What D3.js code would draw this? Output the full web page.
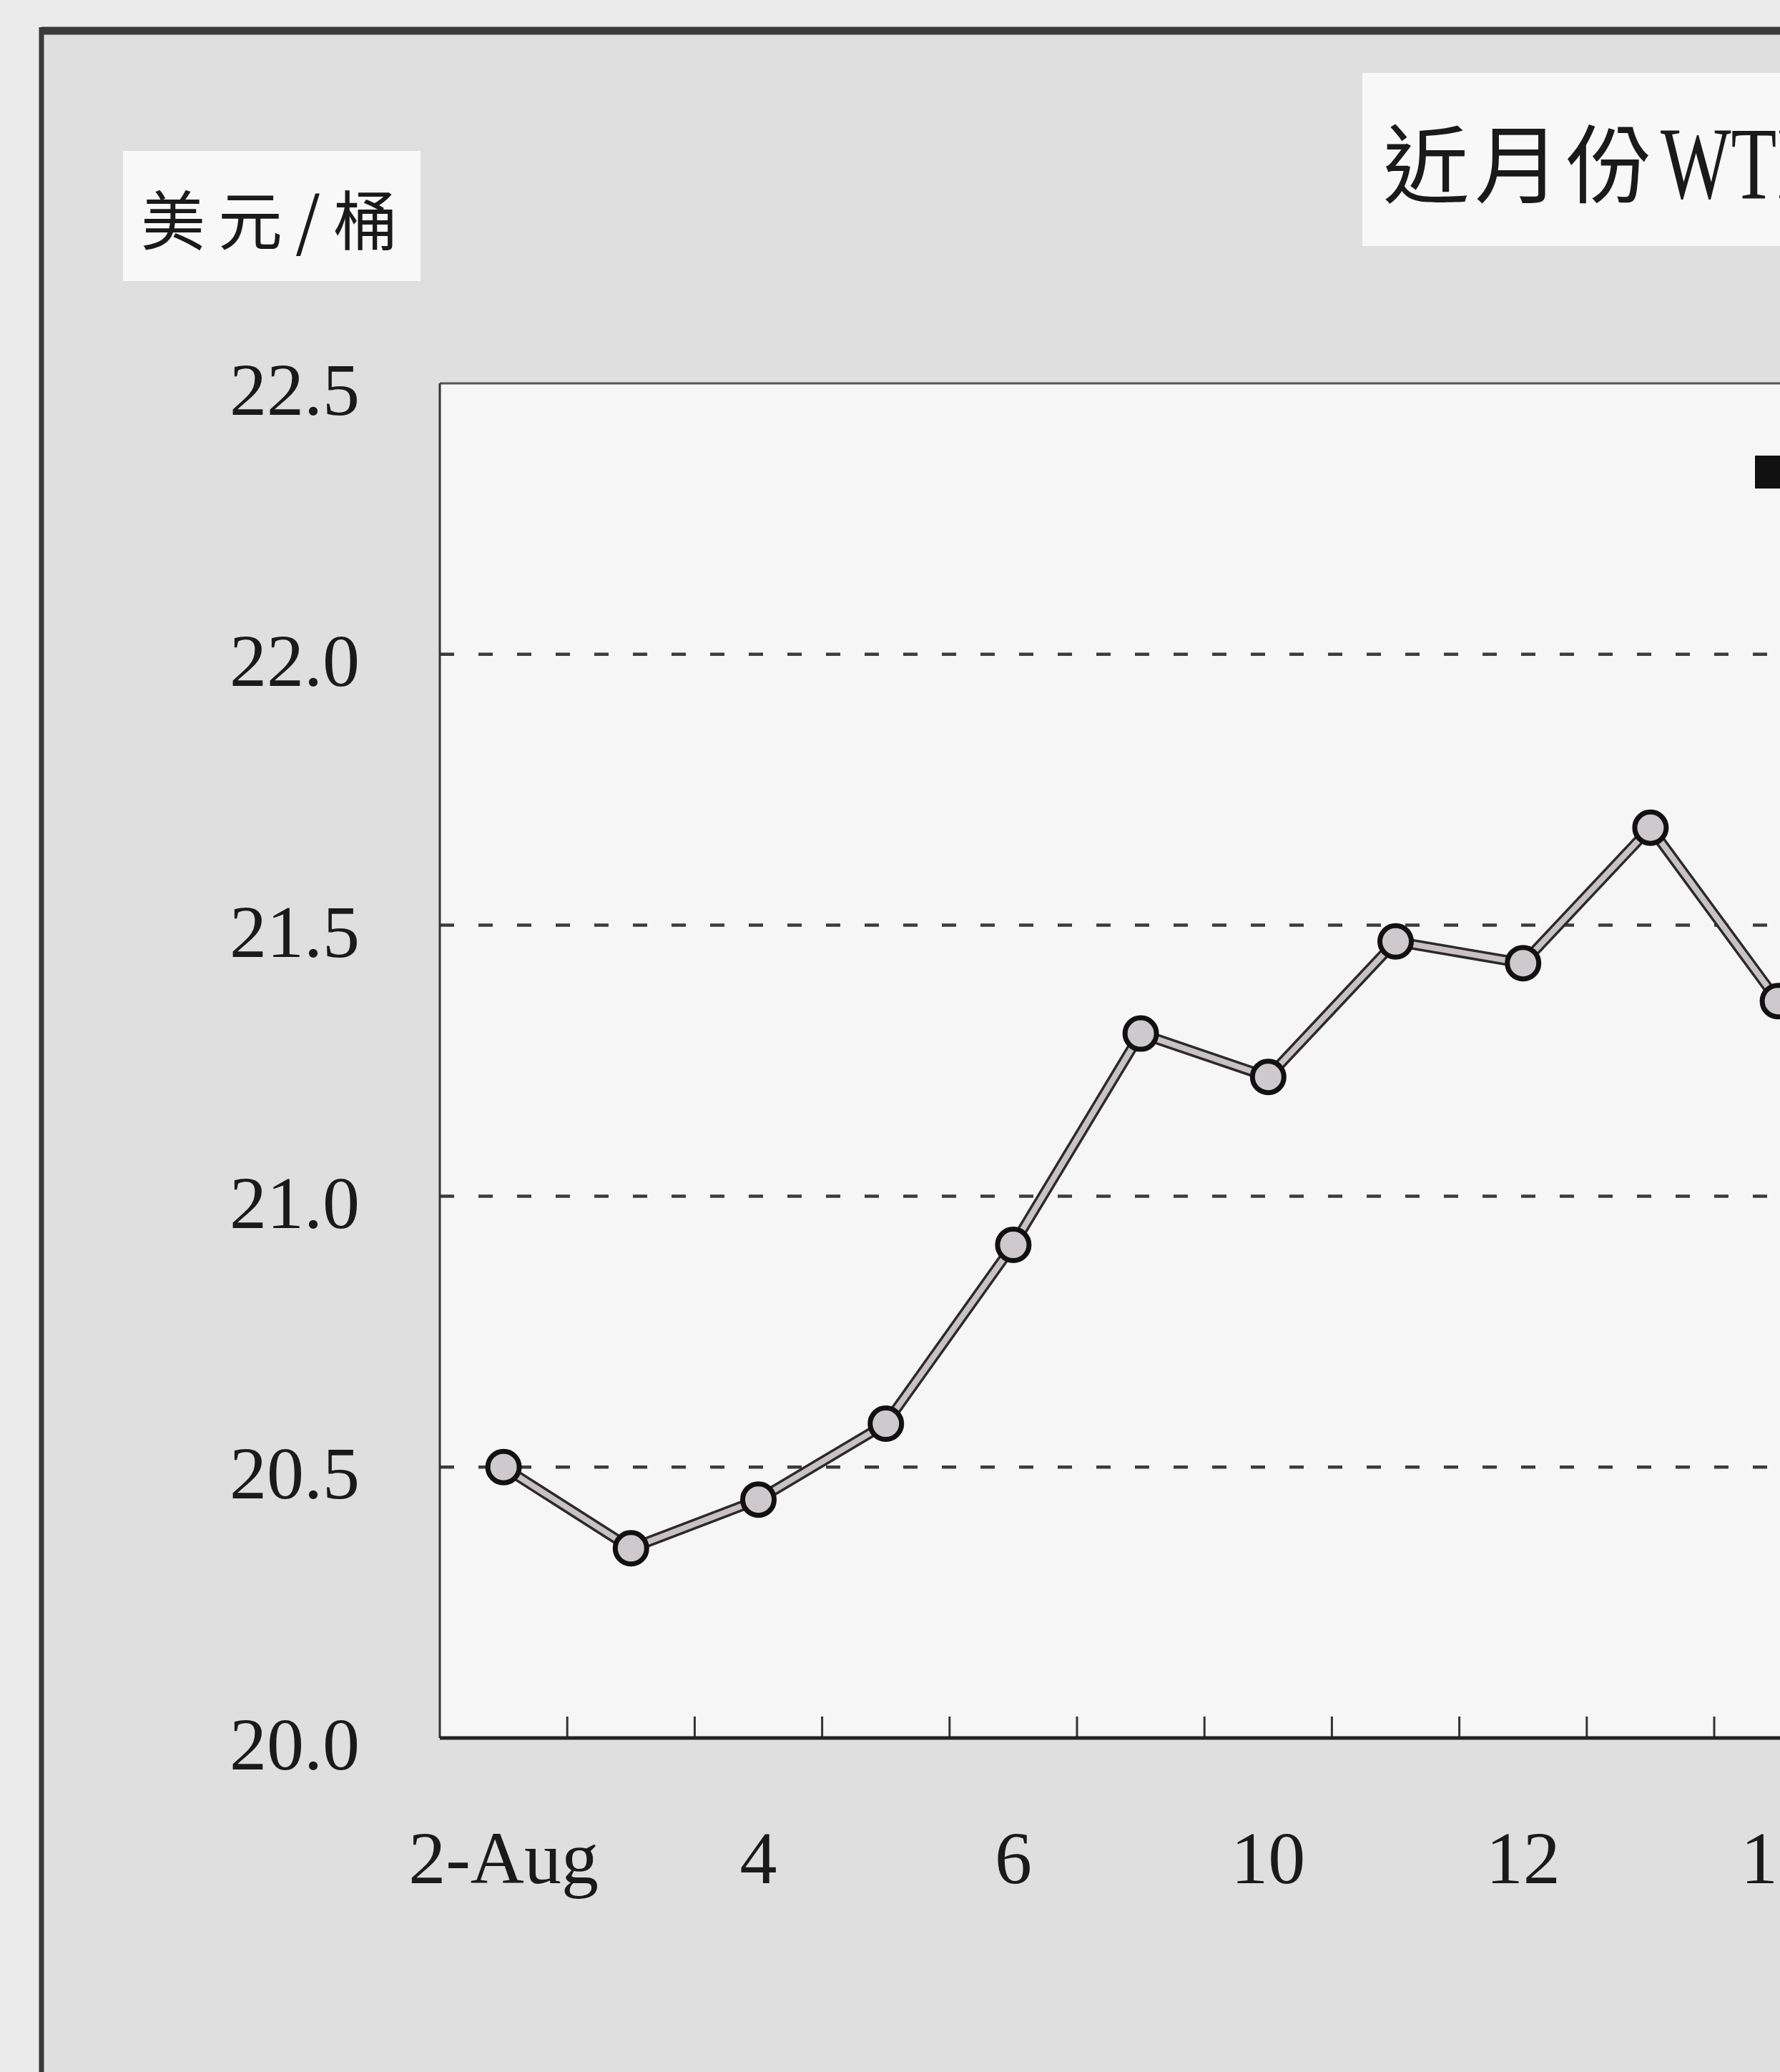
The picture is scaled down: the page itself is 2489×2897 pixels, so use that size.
<!DOCTYPE html>
<html>
<head>
<meta charset="utf-8">
<script src="https://cdn.jsdelivr.net/npm/d3@7"></script>
<style>
  body { margin: 0; background: #ebebeb; }
  svg { display: block; }
</style>
</head>
<body>
<div id="chart"></div>
<script>
// trading days shown along the x axis (only every other one is labelled)
var dates = ["2-Aug", "3", "4", "5", "6", "9", "10", "11", "12", "13", "16"];
var prices = [20.50, 20.35, 20.44, 20.58, 20.91, 21.30, 21.22, 21.47, 21.43, 21.68, 21.36];
var xLabels = ["2-Aug", "4", "6", "10", "12", "16"];
var yTicks = [20.0, 20.5, 21.0, 21.5, 22.0, 22.5];
var yGrid = [20.5, 21.0, 21.5, 22.0];

var svgWidth = 2489;
var svgHeight = 2897;

var plot = { left: 615, top: 536, bottom: 2430, step: 178.2 };

var svg = d3.select("#chart")
    .append("svg")
    .attr("width", svgWidth)
    .attr("height", svgHeight);

// page + framed panel
svg.append("rect")
    .attr("width", svgWidth)
    .attr("height", svgHeight)
    .attr("fill", "#ebebeb");

svg.append("rect")
    .attr("x", 58)
    .attr("y", 43)
    .attr("width", svgWidth)
    .attr("height", svgHeight)
    .attr("fill", "#dfdfdf");

svg.append("line")
    .attr("x1", 58).attr("x2", svgWidth)
    .attr("y1", 43).attr("y2", 43)
    .attr("stroke", "#3a3a3a")
    .attr("stroke-width", 11);

svg.append("line")
    .attr("x1", 58).attr("x2", 58)
    .attr("y1", 38).attr("y2", svgHeight)
    .attr("stroke", "#3a3a3a")
    .attr("stroke-width", 7);

// plot background
svg.append("rect")
    .attr("x", plot.left)
    .attr("y", plot.top)
    .attr("width", svgWidth - plot.left)
    .attr("height", plot.bottom - plot.top)
    .attr("fill", "#f6f6f6");

// scales
var xScale = d3.scaleBand()
    .domain(dates)
    .range([plot.left, plot.left + dates.length * plot.step]);

var yScale = d3.scaleLinear()
    .domain([20, 22.5])
    .range([plot.bottom, plot.top]);

var cx = d => xScale(d) + xScale.bandwidth() / 2;

// dashed gridlines
svg.append("g")
    .selectAll("line")
    .data(yGrid)
    .enter()
    .append("line")
    .attr("x1", plot.left)
    .attr("x2", svgWidth)
    .attr("y1", d => yScale(d))
    .attr("y2", d => yScale(d))
    .attr("stroke", "#3c3c3c")
    .attr("stroke-width", 4.5)
    .attr("stroke-dasharray", "20 34");

// plot top border
svg.append("line")
    .attr("x1", plot.left).attr("x2", svgWidth)
    .attr("y1", yScale(22.5)).attr("y2", yScale(22.5))
    .attr("stroke", "#555")
    .attr("stroke-width", 3);

// left axis line + labels
svg.append("line")
    .attr("x1", plot.left).attr("x2", plot.left)
    .attr("y1", yScale(22.5)).attr("y2", yScale(20))
    .attr("stroke", "#333")
    .attr("stroke-width", 3);

var leftAxis = d3.axisLeft(yScale)
    .tickValues(yTicks)
    .tickSize(0)
    .tickPadding(0)
    .tickFormat(d3.format(".1f"));

var yAxisG = svg.append("g")
    .attr("transform", "translate(503, 0)")
    .call(leftAxis);
yAxisG.select(".domain").remove();
yAxisG.selectAll("text")
    .attr("dy", "0.42em")
    .style("font-family", "'Liberation Serif', 'Times New Roman', serif")
    .style("font-size", "104px")
    .style("fill", "#1a1a1a");

// bottom axis: ticks at day boundaries, labels at every other day
svg.append("g")
    .selectAll("line")
    .data(dates.slice(1))
    .enter()
    .append("line")
    .attr("x1", d => xScale(d))
    .attr("x2", d => xScale(d))
    .attr("y1", plot.bottom)
    .attr("y2", plot.bottom - 30)
    .attr("stroke", "#333")
    .attr("stroke-width", 3);

svg.append("line")
    .attr("x1", plot.left).attr("x2", svgWidth)
    .attr("y1", plot.bottom).attr("y2", plot.bottom)
    .attr("stroke", "#222")
    .attr("stroke-width", 5);

var bottomAxis = d3.axisBottom(xScale)
    .tickValues(xLabels)
    .tickSize(0)
    .tickPadding(0);

var xAxisG = svg.append("g")
    .attr("transform", `translate(0, ${plot.bottom})`)
    .call(bottomAxis);
xAxisG.select(".domain").remove();
xAxisG.selectAll("text")
    .attr("y", 203)
    .attr("dy", 0)
    .style("font-family", "'Liberation Serif', 'Times New Roman', serif")
    .style("font-size", "104px")
    .style("fill", "#1a1a1a");

// price line: dark casing with a grey core
var line = d3.line()
    .x((d, i) => cx(dates[i]))
    .y(d => yScale(d));

svg.append("path")
    .datum(prices)
    .attr("d", line)
    .attr("fill", "none")
    .attr("stroke", "#2a2a2a")
    .attr("stroke-width", 15);

svg.append("path")
    .datum(prices)
    .attr("d", line)
    .attr("fill", "none")
    .attr("stroke", "#c9c1c5")
    .attr("stroke-width", 8);

svg.append("g")
    .selectAll("circle")
    .data(prices)
    .enter()
    .append("circle")
    .attr("cx", (d, i) => cx(dates[i]))
    .attr("cy", d => yScale(d))
    .attr("r", 22)
    .attr("fill", "#cdc9cd")
    .attr("stroke", "#111")
    .attr("stroke-width", 7);

// legend swatch (cut off at the right edge)
svg.append("rect")
    .attr("x", 2454)
    .attr("y", 637)
    .attr("width", 60)
    .attr("height", 46)
    .attr("fill", "#111");

// unit label
svg.append("rect")
    .attr("x", 172)
    .attr("y", 211)
    .attr("width", 416)
    .attr("height", 182)
    .attr("fill", "#f8f8f8");

svg.append("text")
    .attr("x", 197)
    .attr("y", 342)
    .style("font-family", "'Noto Sans CJK TC', 'Noto Sans CJK SC', sans-serif")
    .style("font-size", "90px")
    .style("letter-spacing", "18px")
    .style("fill", "#1a1a1a")
    .text("美元/桶");

// title box
svg.append("rect")
    .attr("x", 1905)
    .attr("y", 102)
    .attr("width", svgWidth - 1905)
    .attr("height", 242)
    .attr("fill", "#f8f8f8");

svg.append("text")
    .attr("x", 1934)
    .attr("y", 275)
    .style("font-family", "'Noto Sans CJK TC', 'Noto Sans CJK SC', sans-serif")
    .style("font-size", "120px")
    .style("letter-spacing", "8px")
    .style("fill", "#1a1a1a")
    .text("近月份");

svg.append("text")
    .attr("transform", "translate(2322, 277) scale(0.72, 1)")
    .style("font-family", "'Liberation Serif', 'Times New Roman', serif")
    .style("font-size", "145px")
    .style("fill", "#1a1a1a")
    .text("WTI");
</script>
</body>
</html>
